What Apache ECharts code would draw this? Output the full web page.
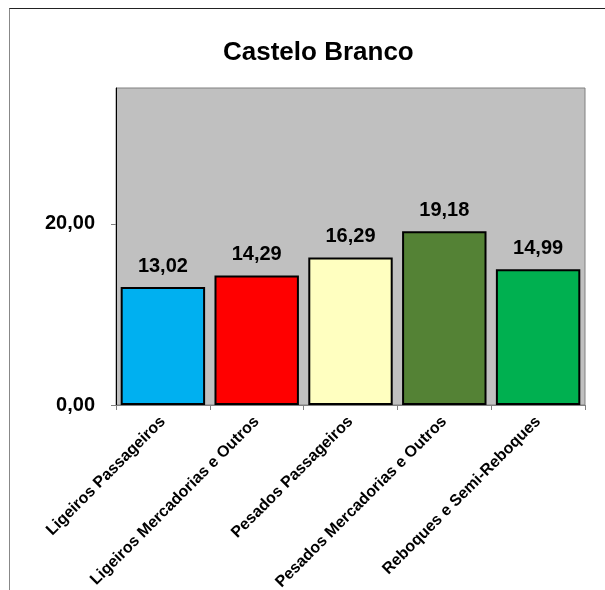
<!DOCTYPE html>
<html>
<head>
<meta charset="utf-8">
<script src="https://cdn.jsdelivr.net/npm/echarts@6/dist/echarts.min.js"></script>
<style>
  html, body { margin: 0; padding: 0; background: #fff; }
  #frame { position: absolute; left: 9px; top: 8px; width: 600px; height: 590px;
           border-top: 1px solid #222; border-left: 1px solid #888; }
  #chart { position: absolute; left: 0; top: 0; width: 605px; height: 590px; }
</style>
</head>
<body>
<div id="frame"></div>
<div id="chart"></div>
<script>
// dados
var categorias = ['Ligeiros Passageiros', 'Ligeiros Mercadorias e Outros', 'Pesados Passageiros',
                  'Pesados Mercadorias e Outros', 'Reboques e Semi-Reboques'];
var valores = [13.02, 14.29, 16.29, 19.18, 14.99];
var ticksY = [0, 20];
var cores = ['#00B0F0', '#FF0000', '#FFFFC0', '#548235', '#00B050'];

var fonte = '"Liberation Sans", Arial, sans-serif';
function virgula(v) { return Number(v).toFixed(2).replace('.', ','); }

var myChart = echarts.init(document.getElementById('chart'));
var options = {
  animation: false,
  title: {
    text: 'Castelo Branco',
    left: 218,
    top: 35,
    textStyle: { fontFamily: fonte, fontSize: 26, fontWeight: 'bold', color: '#000' }
  },
  grid: {
    left: 116, right: 20, top: 88, bottom: 185,
    outerBoundsMode: 'none',
    containLabel: false,
    show: true,
    backgroundColor: '#C0C0C0',
    borderColor: '#808080',
    borderWidth: 1
  },
  xAxis: {
    type: 'category',
    data: categorias,
    axisLine: { lineStyle: { color: '#808080', width: 1 } },
    axisTick: { show: true, length: 5, alignWithLabel: false, lineStyle: { color: '#808080' } },
    axisLabel: {
      rotate: 45,
      interval: 0,
      margin: 14,
      fontFamily: fonte, fontSize: 16, fontWeight: 'bold', color: '#000'
    }
  },
  yAxis: {
    type: 'value',
    min: 0,
    max: 35,
    interval: 20,
    splitLine: { show: false },
    axisLine: { show: true, lineStyle: { color: '#000', width: 1 } },
    axisTick: { show: true, length: 5, customValues: ticksY, lineStyle: { color: '#808080' } },
    axisLabel: {
      customValues: ticksY,
      margin: 21,
      formatter: virgula,
      fontFamily: fonte, fontSize: 20, fontWeight: 'bold', color: '#000'
    }
  },
  series: [{
    type: 'bar',
    barCategoryGap: '10%',
    data: valores.map(function (v, i) {
      return { value: v, itemStyle: { color: cores[i] } };
    }),
    itemStyle: { borderColor: '#000', borderWidth: 2 },
    label: {
      show: true,
      position: 'top',
      distance: 11,
      formatter: function (p) { return virgula(p.value); },
      fontFamily: fonte, fontSize: 20, fontWeight: 'bold', color: '#000'
    }
  }]
};
myChart.setOption(options);
</script>
</body>
</html>
